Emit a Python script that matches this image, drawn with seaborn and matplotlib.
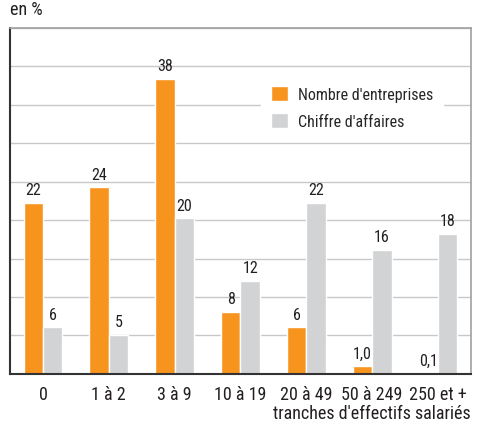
import matplotlib
matplotlib.use('Agg')
import matplotlib.pyplot as plt
import seaborn as sns
import pandas as pd
import numpy as np

categories = ['0', '1 à 2', '3 à 9', '10 à 19', '20 à 49', '50 à 249', '250 et +']
nb_entreprises = [22, 24, 38, 8, 6, 1.0, 0.1]
chiffre_affaires = [6, 5, 20, 12, 22, 16, 18]
lab_entreprises = ['22', '24', '38', '8', '6', '1,0', '0,1']
lab_chiffre = ['6', '5', '20', '12', '22', '16', '18']
series = ["Nombre d'entreprises", "Chiffre d'affaires"]

df = pd.DataFrame({
    'tranche': categories * 2,
    'valeur': nb_entreprises + chiffre_affaires,
    'serie': [series[0]] * 7 + [series[1]] * 7,
})

sns.set_style('white')
plt.rcParams['font.family'] = ['Roboto Condensed', 'DejaVu Sans']

fig = plt.figure(figsize=(4.79, 4.27), dpi=100)
ax = fig.add_axes([0.021, 0.122, 0.962, 0.810])

sns.barplot(data=df, x='tranche', y='valeur', hue='serie', order=categories,
            hue_order=series, palette=['#F7941D', '#D1D3D4'], width=0.59,
            saturation=1, ax=ax, zorder=2)

for cont, labs in zip(ax.containers, [lab_entreprises, lab_chiffre]):
    ax.bar_label(cont, labels=labs, padding=4, fontsize=11.5, color='#231f20')

ymax = 44.5
ax.set_ylim(0, ymax)
ax.set_xlim(-0.5, 6.5)
ax.set_yticks(np.linspace(0, ymax, 10))
ax.set_yticklabels([])
ax.tick_params(axis='y', length=0)
ax.tick_params(axis='x', length=0, labelsize=13, pad=8, colors='#231f20')
ax.yaxis.grid(True, color='#c8c8c8', linewidth=1, zorder=0)
ax.set_axisbelow(True)

for s in ['top', 'right']:
    ax.spines[s].set_color('#a0a0a0')
    ax.spines[s].set_linewidth(1.2)
for s in ['left', 'bottom']:
    ax.spines[s].set_color('#333333')
    ax.spines[s].set_linewidth(1.5)

ax.set_xlabel("tranches d'effectifs salariés", fontsize=13, color='#231f20',
              labelpad=1, loc='right')
ax.set_ylabel('')
ax.text(0.0, 1.03, 'en %', transform=ax.transAxes, fontsize=13,
        color='#231f20', ha='left', va='bottom')

leg = ax.legend(loc='upper left', bbox_to_anchor=(0.545, 0.86), frameon=True,
                fontsize=11.5, handlelength=1.1, handleheight=1.1,
                handletextpad=0.6, labelspacing=0.65, borderpad=0.6,
                borderaxespad=0)
leg.get_frame().set_facecolor('white')
leg.get_frame().set_edgecolor('white')
leg.get_frame().set_alpha(1)

fig.savefig('out.png', dpi=100)
